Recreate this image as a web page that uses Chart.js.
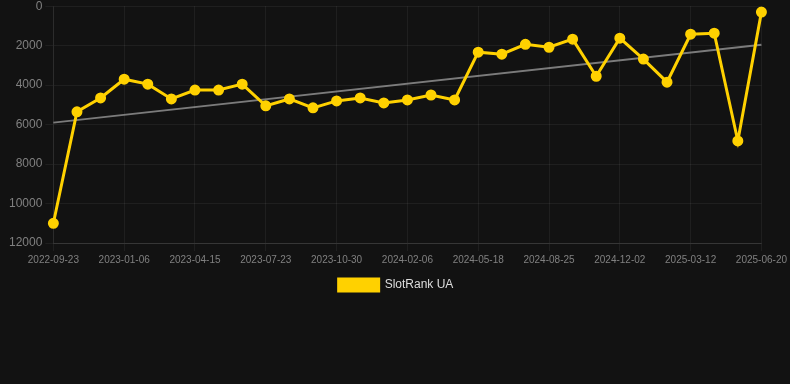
<!DOCTYPE html>
<html>
<head>
<meta charset="utf-8">
<script src="https://cdn.jsdelivr.net/npm/chart.js@4"></script>
<style>
    html, body { margin: 0; padding: 0; background: #121212; overflow: hidden; }
    #wrap { width: 790px; height: 388px; margin-top: -4px; }
</style>
</head>
<body>
<div id="wrap"><canvas id="chart-canvas"></canvas></div>
<script>
let dates = ['2022-09-23', '2022-10-28', '2022-12-02', '2023-01-06', '2023-02-08', '2023-03-13',
    '2023-04-15', '2023-05-18', '2023-06-20', '2023-07-23', '2023-08-25', '2023-09-27',
    '2023-10-30', '2023-12-02', '2024-01-04', '2024-02-06', '2024-03-10', '2024-04-14',
    '2024-05-18', '2024-06-20', '2024-07-23', '2024-08-25', '2024-09-27', '2024-10-30',
    '2024-12-02', '2025-01-04', '2025-02-07', '2025-03-12', '2025-04-14', '2025-05-17',
    '2025-06-20'];
let ranks = [11000, 5350, 4650, 3700, 3950, 4700, 4250, 4250, 3950, 5050, 4700, 5150, 4800,
    4650, 4900, 4750, 4500, 4750, 2330, 2430, 1930, 2080, 1670, 3550, 1620, 2680, 3850,
    1420, 1370, 6830, 300];
// trend line only known at its two ends
let trendStart = 5900;
let trendEnd = 1950;
let yTicks = [0, 2000, 4000, 6000, 8000, 10000, 12000];

let trend = dates.map(() => null);
trend[0] = trendStart;
trend[trend.length - 1] = trendEnd;

let gridColor = 'rgba(255,255,255,0.06)';

let chart = new Chart(document.getElementById('chart-canvas').getContext('2d'), {
    type: 'line',
    data: {
        labels: dates,
        datasets: [{
            label: 'SlotRank UA',
            data: ranks,
            borderColor: '#ffd100',
            backgroundColor: '#ffd100',
            borderWidth: 3,
            pointRadius: 4,
            pointHoverRadius: 4,
            tension: 0
        }, {
            label: 'trend',
            data: trend,
            borderColor: 'rgba(150,150,150,0.8)',
            borderWidth: 2,
            pointRadius: 0,
            spanGaps: true
        }]
    },
    options: {
        responsive: true,
        maintainAspectRatio: false,
        animation: false,
        layout: { padding: { left: 6, right: 4, top: 0, bottom: 83 } },
        plugins: {
            legend: {
                position: 'bottom',
                labels: {
                    color: '#dddddd',
                    font: { family: 'Liberation Sans, Arial', size: 12 },
                    boxWidth: 40,
                    boxHeight: 12,
                    filter: item => item.text !== 'trend'
                }
            },
            tooltip: { enabled: false }
        },
        scales: {
            x: {
                grid: {
                    color: ctx => ctx.index % 3 === 0 ? gridColor : 'transparent'
                },
                border: { color: 'rgba(255,255,255,0.1)' },
                ticks: {
                    autoSkip: false,
                    maxRotation: 0,
                    color: '#808080',
                    font: { family: 'Liberation Sans, Arial', size: 10 },
                    callback: function(value, index) {
                        return index % 3 === 0 ? this.getLabelForValue(value) : '';
                    }
                }
            },
            y: {
                reverse: true,
                min: 0,
                max: 12000,
                afterBuildTicks: axis => { axis.ticks = yTicks.map(v => ({ value: v })); },
                grid: { color: gridColor },
                border: { color: gridColor },
                ticks: {
                    color: '#808080',
                    font: { family: 'Liberation Sans, Arial', size: 12 },
                    callback: value => String(value)
                }
            }
        }
    }
});
</script>
</body>
</html>
